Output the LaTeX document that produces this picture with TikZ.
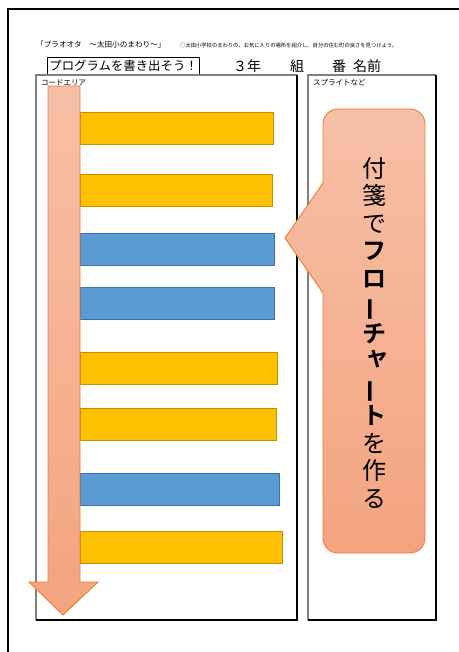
\documentclass[tikz,border=0pt]{standalone}
\usepackage{fontspec}
\setmainfont{Noto Sans CJK JP}
\newfontfamily\jpbold{Noto Sans CJK JP Bold}
\definecolor{barY}{HTML}{FFC000}
\definecolor{barYd}{HTML}{BF9000}
\definecolor{barB}{HTML}{5B9BD5}
\definecolor{barBd}{HTML}{41719C}
\definecolor{salTop}{HTML}{F6C0A8}
\definecolor{salBot}{HTML}{F4A47F}
\definecolor{orEdge}{HTML}{ED7D31}
\tikzset{
  ybar/.style={fill=barY,draw=barYd,line width=1.4pt},
  bbar/.style={fill=barB,draw=barBd,line width=1.4pt},
  lbl/.style={inner sep=0pt,anchor=west},
}
\begin{document}
\begin{tikzpicture}[x=1pt,y=-1pt]
\useasboundingbox (0,0) rectangle (458,652);
% outer page frame
\draw[line width=2pt] (8,660) -- (8,9) -- (470,9);
% header
\node[lbl,font=\fontsize{7.6}{8}\selectfont] (title) at (36,45) {「プラオオタ　～太田小のまわり～」};
\node[lbl,font=\fontsize{5.3}{6}\selectfont] (goal) at (180,45) {○太田小学校のまわりの、お気に入りの場所を紹介し、自分の住む町の良さを見つけよう。};
\node[draw,line width=1.2pt,inner sep=1pt,font=\fontsize{12.4}{13}\selectfont,minimum height=17pt,minimum width=152pt,anchor=west] (prog) at (47,66) {プログラムを書き出そう！};
\node[font=\fontsize{14}{15}\selectfont,inner sep=0pt] (nen) at (247,66) {３年};
\node[font=\fontsize{14}{15}\selectfont,inner sep=0pt] (kumi) at (297,66) {組};
\node[font=\fontsize{14}{15}\selectfont,inner sep=0pt] (ban) at (339,66) {番};
\node[font=\fontsize{14}{15}\selectfont,inner sep=0pt] (namae) at (367,66) {名前};
% code area
\draw[gray,line width=1.2pt] (36,620) -- (36,75) -- (297,75);
\draw[black,line width=1.3pt] (297,75) -- (297,620) -- (36,620);
\node[lbl,font=\fontsize{7.5}{8}\selectfont] (code) at (41,83) {コードエリア};
% sprite area
\draw[gray,line width=1.2pt] (308,620) -- (308,75) -- (436,75);
\draw[black,line width=1.3pt] (436,75) -- (436,620) -- (308,620);
\node[lbl,font=\fontsize{7.5}{8}\selectfont] (sprite) at (313,83) {スプライトなど};
% bars
\node[ybar,minimum width=193pt,minimum height=32pt,anchor=north west,inner sep=0pt] (b1) at (80,112) {};
\node[ybar,minimum width=192pt,minimum height=32pt,anchor=north west,inner sep=0pt] (b2) at (80,174) {};
\node[bbar,minimum width=194pt,minimum height=32pt,anchor=north west,inner sep=0pt] (b3) at (80,233) {};
\node[bbar,minimum width=194pt,minimum height=32pt,anchor=north west,inner sep=0pt] (b4) at (80,287) {};
\node[ybar,minimum width=197pt,minimum height=32pt,anchor=north west,inner sep=0pt] (b5) at (80,352) {};
\node[ybar,minimum width=196pt,minimum height=32pt,anchor=north west,inner sep=0pt] (b6) at (80,408) {};
\node[bbar,minimum width=199pt,minimum height=32pt,anchor=north west,inner sep=0pt] (b7) at (80,473) {};
\node[ybar,minimum width=202pt,minimum height=32pt,anchor=north west,inner sep=0pt] (b8) at (80,531) {};
% down arrow
\draw[draw=orEdge,line width=0.9pt,top color=salTop,bottom color=salBot,shading angle=0]
  (48,86) -- (80,86) -- (80,582) -- (98,582) -- (63,615) -- (29,582) -- (48,582) -- cycle;
% callout
\draw[draw=orEdge,line width=0.9pt,top color=salTop,bottom color=salBot]
  (323,183) -- (285,238) -- (323,293) [rounded corners=15pt] -- (323,553) -- (425,553) -- (425,109) -- (323,109) [sharp corners] -- (323,183) -- cycle;
\node[align=center,font=\fontsize{24}{27.5}\selectfont,inner sep=0pt] (note) at (374,333)
  {付\\箋\\で\\{\jpbold フ}\\{\jpbold ロ}\\{\jpbold\rotatebox[origin=c]{90}{ー}}\\{\jpbold チ}\\{\jpbold\makebox[1em]{\hspace{0.25em}\raisebox{0.2em}{ャ}}}\\{\jpbold\rotatebox[origin=c]{90}{ー}}\\{\jpbold ト}\\を\\作\\る};
\end{tikzpicture}
\end{document}
